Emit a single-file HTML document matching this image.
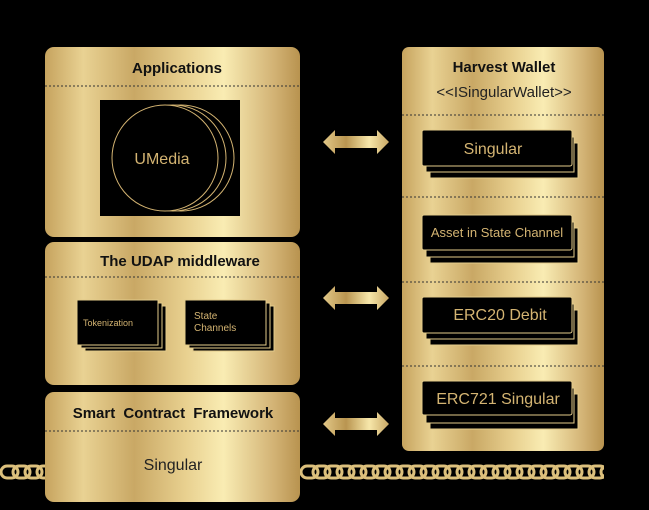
<!DOCTYPE html>
<html><head><meta charset="utf-8"><style>
html,body{margin:0;padding:0;background:#000;}
svg{display:block;}
text{font-family:"Liberation Sans",sans-serif;}
</style></head><body>
<svg width="649" height="510" viewBox="0 0 649 510" xmlns="http://www.w3.org/2000/svg">
<defs>
<linearGradient id="g" x1="0" y1="0" x2="1" y2="0">
<stop offset="0" stop-color="#c6a35e"/>
<stop offset="0.15" stop-color="#e9d293"/>
<stop offset="0.35" stop-color="#c9a865"/>
<stop offset="0.55" stop-color="#e8d08f"/>
<stop offset="0.7" stop-color="#f9ecb3"/>
<stop offset="0.9" stop-color="#d2b274"/>
<stop offset="1" stop-color="#b8934f"/>
</linearGradient>
<linearGradient id="ga" x1="0" y1="0" x2="1" y2="0">
<stop offset="0" stop-color="#e2c888"/>
<stop offset="0.35" stop-color="#b99550"/>
<stop offset="0.7" stop-color="#f7e7aa"/>
<stop offset="1" stop-color="#c9a865"/>
</linearGradient>
<g id="arrow"><path d="M0 0 L12 -12 L12 -6 L54 -6 L54 -12 L66 0 L54 12 L54 6 L12 6 L12 12 Z" fill="url(#ga)"/></g>
</defs>
<rect width="649" height="510" fill="#000"/>

<!-- chain -->
<g fill="none" stroke="#dcc07c" stroke-width="3">
<g id="ch">
<rect x="1" y="466" width="17" height="12" rx="6"/>
<rect x="13" y="466" width="17" height="12" rx="6"/>
</g>
<use href="#ch" x="24" y="0"/>
<use href="#ch" x="300"/><use href="#ch" x="324"/><use href="#ch" x="348"/><use href="#ch" x="372"/><use href="#ch" x="396"/><use href="#ch" x="420"/><use href="#ch" x="444"/><use href="#ch" x="468"/><use href="#ch" x="492"/><use href="#ch" x="516"/><use href="#ch" x="540"/><use href="#ch" x="564"/><use href="#ch" x="588"/>
</g>
<rect x="604" y="460" width="45" height="25" fill="#000"/>

<!-- Applications -->
<rect x="45" y="47" width="255" height="190" rx="9" fill="url(#g)"/>
<text x="177" y="73" font-size="15" font-weight="bold" text-anchor="middle" fill="#111">Applications</text>
<line x1="45" y1="86" x2="300" y2="86" stroke="#333" stroke-width="1" stroke-dasharray="2,2"/>
<rect x="100" y="100" width="140" height="116" fill="#000"/>
<g fill="none" stroke="#d4b472" stroke-width="1">
<circle cx="181" cy="158" r="53"/><circle cx="173" cy="158" r="53" fill="#000"/><circle cx="165" cy="158" r="53" fill="#000"/>
</g>
<text x="162" y="164" font-size="16" text-anchor="middle" fill="#d4b472">UMedia</text>

<!-- UDAP -->
<rect x="45" y="242" width="255" height="143" rx="9" fill="url(#g)"/>
<text x="180" y="266" font-size="15" font-weight="bold" text-anchor="middle" fill="#111">The UDAP middleware</text>
<line x1="45" y1="277" x2="300" y2="277" stroke="#333" stroke-width="1" stroke-dasharray="2,2"/>
<g stroke="#e3cb8a" stroke-width="1" fill="#000">
<rect x="85" y="306" width="81" height="45"/><rect x="81" y="303" width="81" height="45"/><rect x="77" y="300" width="81" height="45"/>
<rect x="193" y="306" width="81" height="45"/><rect x="189" y="303" width="81" height="45"/><rect x="185" y="300" width="81" height="45"/>
</g>
<text x="83" y="326" font-size="9" fill="#d4b472">Tokenization</text>
<text x="194" y="319" font-size="10" fill="#d4b472">State</text>
<text x="194" y="331" font-size="10" fill="#d4b472">Channels</text>

<!-- Smart contract -->
<rect x="45" y="392" width="255" height="110" rx="9" fill="url(#g)"/>
<text x="173" y="418" font-size="15" font-weight="bold" text-anchor="middle" fill="#111" word-spacing="4">Smart Contract Framework</text>
<line x1="45" y1="431" x2="300" y2="431" stroke="#333" stroke-width="1" stroke-dasharray="2,2"/>
<text x="173" y="470" font-size="16" text-anchor="middle" fill="#222">Singular</text>

<!-- arrows -->
<use href="#arrow" x="323" y="142"/>
<use href="#arrow" x="323" y="298"/>
<use href="#arrow" x="323" y="424"/>

<!-- Harvest wallet -->
<rect x="402" y="47" width="202" height="404" rx="7" fill="url(#g)"/>
<text x="504" y="72" font-size="15" font-weight="bold" text-anchor="middle" fill="#111">Harvest Wallet</text>
<text x="504" y="97" font-size="15" text-anchor="middle" fill="#222">&lt;&lt;ISingularWallet&gt;&gt;</text>
<g stroke="#333" stroke-width="1" stroke-dasharray="2,2">
<line x1="402" y1="115" x2="604" y2="115"/><line x1="402" y1="197" x2="604" y2="197"/><line x1="402" y1="282" x2="604" y2="282"/><line x1="402" y1="366" x2="604" y2="366"/>
</g>
<g stroke="#e3cb8a" stroke-width="1" fill="#000">
<rect x="430" y="143" width="148" height="35"/><rect x="426" y="137" width="148" height="35"/><rect x="422" y="130" width="150" height="36" rx="2"/>
<rect x="430" y="228" width="148" height="35"/><rect x="426" y="222" width="148" height="35"/><rect x="422" y="215" width="150" height="35" rx="2"/>
<rect x="430" y="310" width="148" height="35"/><rect x="426" y="304" width="148" height="35"/><rect x="422" y="297" width="150" height="36" rx="2"/>
<rect x="430" y="394" width="148" height="35"/><rect x="426" y="388" width="148" height="35"/><rect x="422" y="381" width="150" height="34" rx="2"/>
</g>
<g fill="#d4b472" text-anchor="middle">
<text x="493" y="154" font-size="16">Singular</text>
<text x="497" y="237" font-size="13">Asset in State Channel</text>
<text x="500" y="320" font-size="16">ERC20 Debit</text>
<text x="498" y="404" font-size="16">ERC721 Singular</text>
</g>
</svg>
</body></html>
